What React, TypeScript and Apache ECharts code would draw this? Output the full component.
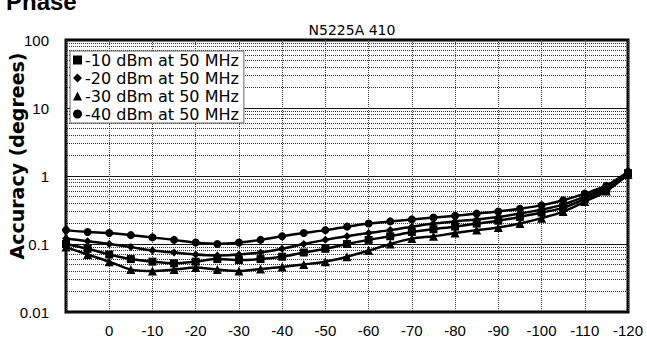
import React, { useEffect, useRef } from "react";
import * as echarts from "echarts";

const TITLE = "N5225A 410";
const HEADING = "Phase";
const Y_NAME = "Accuracy (degrees)";

const SERIES_NAMES = [
  "-10 dBm at 50 MHz",
  "-20 dBm at 50 MHz",
  "-30 dBm at 50 MHz",
  "-40 dBm at 50 MHz",
];
const SERIES_SYMBOLS = ["rect", "diamond", "triangle", "circle"];

// power level (dBm) of each measured point
const X_VALUES = [10, 5, 0, -5, -10, -15, -20, -25, -30, -35, -40, -45, -50, -55, -60, -65, -70, -75, -80, -85, -90, -95, -100, -105, -110, -115, -120];

const S_10 = [0.1, 0.085, 0.07, 0.06, 0.055, 0.052, 0.055, 0.06, 0.058, 0.06, 0.065, 0.075, 0.085, 0.1, 0.115, 0.13, 0.15, 0.165, 0.18, 0.2, 0.22, 0.25, 0.29, 0.34, 0.46, 0.65, 1.1];
const S_20 = [0.12, 0.11, 0.1, 0.09, 0.08, 0.075, 0.07, 0.068, 0.07, 0.075, 0.085, 0.1, 0.115, 0.13, 0.145, 0.16, 0.18, 0.2, 0.215, 0.23, 0.25, 0.28, 0.32, 0.38, 0.5, 0.68, 1.1];
const S_30 = [0.09, 0.07, 0.055, 0.042, 0.04, 0.042, 0.045, 0.042, 0.04, 0.043, 0.046, 0.05, 0.055, 0.065, 0.08, 0.1, 0.12, 0.13, 0.145, 0.16, 0.175, 0.2, 0.24, 0.3, 0.42, 0.6, 1.05];
const S_40 = [0.16, 0.15, 0.145, 0.135, 0.125, 0.115, 0.105, 0.1, 0.105, 0.115, 0.13, 0.145, 0.16, 0.18, 0.2, 0.215, 0.23, 0.245, 0.26, 0.28, 0.3, 0.33, 0.37, 0.44, 0.55, 0.72, 1.15];
const SERIES_VALUES = [S_10, S_20, S_30, S_40];

const X_TICKS = [0, -10, -20, -30, -40, -50, -60, -70, -80, -90, -100, -110, -120];
const Y_TICKS = ["0.01", "0.1", "1", "10", "100"];
const DECADES = [0.01, 0.1, 1, 10];
const MINOR_STEPS = [2, 3, 4, 5, 6, 7, 8, 9];

const FONT = "'Liberation Sans', Arial, sans-serif";
const WIDE = "'DejaVu Sans', 'Liberation Sans', sans-serif";

export default function App() {
  const ref = useRef<HTMLDivElement>(null);

  useEffect(() => {
    if (!ref.current) return;
    const chart = echarts.init(ref.current, null, { renderer: "svg" });

    const minorLines: { yAxis: number }[] = [];
    DECADES.forEach((d) => MINOR_STEPS.forEach((m) => minorLines.push({ yAxis: +(d * m).toPrecision(3) })));

    const dataSeries = SERIES_NAMES.map((name, i) => ({
      name,
      type: "line",
      z: 3,
      smooth: 0.3,
      symbol: SERIES_SYMBOLS[i],
      symbolSize: i === 2 ? 9 : 8,
      showSymbol: true,
      lineStyle: { color: "#000", width: 2.5 },
      itemStyle: { color: "#000" },
      data: X_VALUES.map((x, j) => [x, SERIES_VALUES[i][j]]),
    }));

    chart.setOption({
      animation: false,
      backgroundColor: "#fff",
      title: {
        text: TITLE,
        left: 347,
        top: 18,
        textAlign: "center",
        textStyle: { fontFamily: WIDE, fontSize: 14, fontWeight: "normal", color: "#000" },
      },
      graphic: [
        {
          type: "text",
          x: 6,
          y: -11,
          style: {
            text: HEADING,
            font: `bold 24px ${FONT}`,
            fill: "#000",
          },
        },
        {
          type: "text",
          x: 17,
          y: 156,
          rotation: Math.PI / 2,
          style: {
            text: Y_NAME,
            font: `bold 19px ${WIDE}`,
            fill: "#000",
            textAlign: "center",
            textVerticalAlign: "middle",
          },
        },
      ],
      legend: {
        orient: "vertical",
        left: 70,
        top: 51,
        z: 10,
        backgroundColor: "#fff",
        borderColor: "#666",
        borderWidth: 1,
        borderRadius: 0,
        padding: [1, 5, 1, 3],
        itemGap: 2,
        itemWidth: 9,
        itemHeight: 9,
        textStyle: { fontFamily: WIDE, fontSize: 16, lineHeight: 16, color: "#000", padding: [0, 0, 0, -2] },
        data: SERIES_NAMES.map((n, i) => ({ name: n, icon: SERIES_SYMBOLS[i] })),
      },
      grid: {
        left: 66,
        right: 19,
        top: 40,
        bottom: 42,
        outerBoundsMode: "none",
        containLabel: false,
        show: true,
        borderColor: "#000",
        borderWidth: 3,
        backgroundColor: "#fff",
      },
      xAxis: {
        type: "value",
        inverse: true,
        min: -120,
        max: 10,
        interval: 10,
        axisLine: { show: false },
        axisTick: { show: false },
        axisLabel: {
          margin: 11,
          fontFamily: FONT,
          fontSize: 15,
          color: "#000",
          formatter: (v: number) => (X_TICKS.indexOf(v) >= 0 ? String(v) : ""),
        },
        splitLine: { show: true, lineStyle: { color: "#444", type: "dotted", width: 1 } },
      },
      yAxis: {
        type: "log",
        logBase: 10,
        min: 0.01,
        max: 100,
        axisLine: { show: false },
        axisTick: { show: false },
        axisLabel: {
          margin: 17,
          fontFamily: FONT,
          fontSize: 15,
          color: "#000",
          formatter: (v: number) => {
            const idx = Math.round(Math.log10(v)) + 2;
            return Y_TICKS[idx] ?? "";
          },
        },
        splitLine: { show: true, lineStyle: { color: "#111", width: 1.2 } },
      },
      series: [
        {
          name: "grid-minor",
          type: "line",
          z: 1,
          data: [],
          markLine: {
            silent: true,
            z: 1,
            symbol: "none",
            label: { show: false },
            animation: false,
            lineStyle: { color: "#333", type: "dotted", width: 1 },
            data: minorLines,
          },
        },
        ...dataSeries,
      ],
    });

    return () => chart.dispose();
  }, []);

  return (
    <div
      ref={ref}
      style={{ position: "absolute", left: 0, top: 0, width: 647, height: 354 }}
    />
  );
}
